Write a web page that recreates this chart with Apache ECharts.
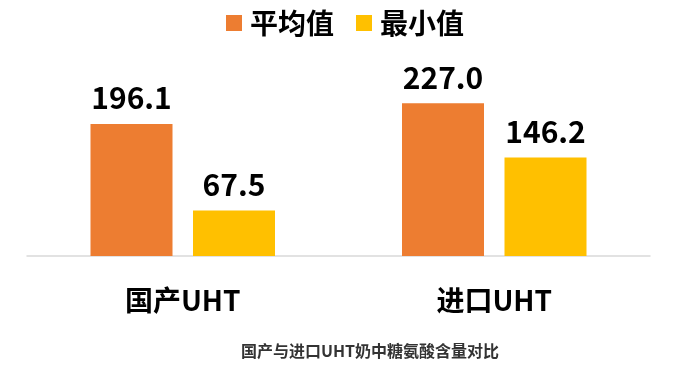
<!DOCTYPE html>
<html>
<head>
<meta charset="utf-8">
<script src="https://cdn.jsdelivr.net/npm/echarts@6/dist/echarts.min.js"></script>
<style>html,body{margin:0;padding:0;background:#fff;}#c{width:690px;height:366px;}</style>
</head>
<body>
<div id="c"></div>
<script>
const categories = ['国产UHT', '进口UHT'];
const seriesNames = ['平均值', '最小值'];
const avgValues = [196.1, 227.0];
const minValues = [67.5, 146.2];
const titleText = '国产与进口UHT奶中糖氨酸含量对比';

const FONT = '"Noto Sans CJK SC", "Noto Sans", sans-serif';
const chart = echarts.init(document.getElementById('c'));
const labelCfg = {
  show: true, position: 'top', distance: 11,
  fontSize: 30, fontWeight: 'bold', color: '#000', fontFamily: FONT,
  formatter: p => p.value.toFixed(1)
};
chart.setOption({
  animation: false,
  title: {
    text: titleText, left: 236, top: 338,
    textStyle: { fontSize: 16, fontWeight: 'bold', color: '#333', fontFamily: FONT }
  },
  legend: {
    top: 4, left: 'center', itemWidth: 16, itemHeight: 16, itemGap: 22,
    icon: 'rect',
    textStyle: { fontSize: 28, fontWeight: 'bold', color: '#000', fontFamily: FONT, padding: [0, 0, 0, 3] },
    data: seriesNames
  },
  grid: { left: 27, right: 40, top: 54, bottom: 110 },
  xAxis: {
    type: 'category', data: categories,
    axisLine: { lineStyle: { color: '#d9d9d9', width: 1.5 } },
    axisTick: { show: false },
    axisLabel: { fontSize: 28, fontWeight: 'bold', color: '#000', fontFamily: FONT, margin: 30 }
  },
  yAxis: { type: 'value', min: 0, max: 300, show: false, splitLine: { show: false } },
  series: [
    { name: seriesNames[0], type: 'bar', data: avgValues, barWidth: 82, barGap: '25%',
      itemStyle: { color: '#ED7D31' }, label: labelCfg },
    { name: seriesNames[1], type: 'bar', data: minValues, barWidth: 82,
      itemStyle: { color: '#FFC000' }, label: labelCfg }
  ]
});
</script>
</body>
</html>
